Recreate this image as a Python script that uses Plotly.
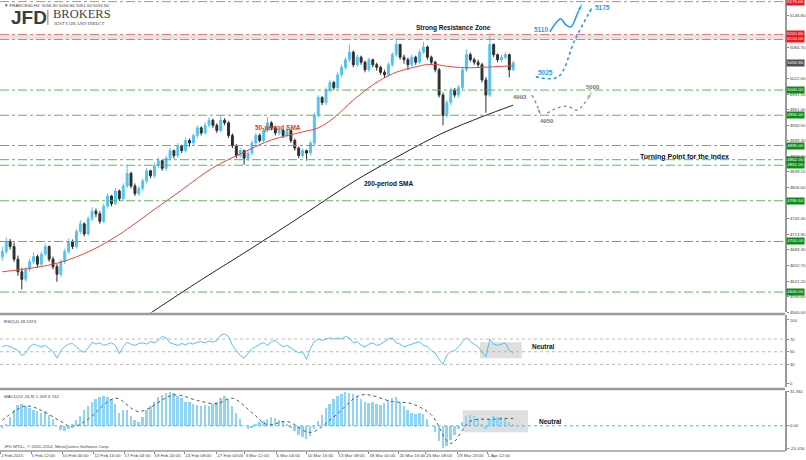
import plotly.graph_objects as go

# ---------------- data ----------------
OPEN = [4670, 4680, 4700, 4690, 4665, 4640, 4625, 4645,
        4660, 4670, 4655, 4675, 4690, 4665, 4650, 4635,
        4660, 4680, 4700, 4690, 4720, 4735, 4715, 4745,
        4760, 4755, 4740, 4770, 4790, 4775, 4800, 4785,
        4810, 4835, 4810, 4795, 4805, 4820, 4840, 4830,
        4850, 4860, 4845, 4865, 4880, 4870, 4890, 4880,
        4900, 4895, 4910, 4925, 4915, 4930, 4940, 4930,
        4920, 4940, 4935, 4910, 4890, 4870, 4880, 4865,
        4875, 4895, 4910, 4900, 4920, 4935, 4925, 4915,
        4920, 4910, 4920, 4900, 4885, 4870, 4880, 4875,
        4895, 4950, 4985, 4975, 5000, 5015, 5005, 5030,
        5045, 5060, 5075, 5050, 5065, 5055, 5040, 5060,
        5050, 5045, 5035, 5030, 5050, 5070, 5090, 5065,
        5060, 5050, 5065, 5055, 5075, 5085, 5065, 5055,
        5040, 4990, 4950, 4975, 5000, 4990, 5005, 5040,
        5070, 5060, 5055, 5050, 5020, 4990, 5090, 5070,
        5060, 5065, 5070, 5040]
HIGH = [4690, 4708, 4705, 4698, 4672, 4648, 4650, 4666,
        4678, 4674, 4680, 4696, 4692, 4670, 4655, 4665,
        4686, 4706, 4704, 4725, 4742, 4738, 4750, 4768,
        4765, 4760, 4775, 4796, 4792, 4806, 4803, 4815,
        4852, 4838, 4815, 4810, 4825, 4846, 4842, 4856,
        4866, 4862, 4870, 4886, 4882, 4895, 4892, 4906,
        4904, 4914, 4930, 4928, 4936, 4946, 4943, 4934,
        4950, 4944, 4938, 4914, 4893, 4885, 4882, 4880,
        4900, 4915, 4914, 4925, 4946, 4938, 4928, 4925,
        4923, 4925, 4922, 4904, 4888, 4884, 4882, 4900,
        4955, 4990, 4988, 5005, 5020, 5018, 5035, 5050,
        5065, 5090, 5078, 5070, 5068, 5058, 5064, 5062,
        5054, 5048, 5040, 5055, 5075, 5102, 5092, 5070,
        5064, 5070, 5068, 5080, 5095, 5088, 5068, 5058,
        5044, 4995, 4980, 5005, 5004, 5010, 5045, 5080,
        5074, 5064, 5060, 5054, 5025, 5108, 5092, 5072,
        5070, 5075, 5072, 5058]
LOW = [4662, 4675, 4684, 4660, 4632, 4605, 4620, 4640,
       4655, 4648, 4650, 4670, 4660, 4645, 4620, 4630,
       4655, 4676, 4685, 4686, 4715, 4710, 4712, 4740,
       4748, 4735, 4736, 4765, 4770, 4772, 4780, 4780,
       4806, 4805, 4790, 4790, 4800, 4815, 4825, 4826,
       4845, 4840, 4840, 4860, 4864, 4866, 4875, 4876,
       4888, 4890, 4905, 4910, 4912, 4926, 4925, 4915,
       4916, 4930, 4905, 4885, 4865, 4866, 4852, 4860,
       4870, 4890, 4896, 4896, 4916, 4920, 4910, 4910,
       4905, 4906, 4895, 4880, 4865, 4866, 4860, 4870,
       4890, 4945, 4970, 4970, 4995, 5000, 5000, 5025,
       5040, 5055, 5045, 5046, 5050, 5035, 5036, 5045,
       5038, 5030, 5024, 5026, 5046, 5066, 5060, 5052,
       5040, 5046, 5050, 5052, 5072, 5060, 5050, 5035,
       4985, 4930, 4945, 4970, 4985, 4985, 5000, 5036,
       5056, 5050, 5045, 5015, 4955, 4986, 5065, 5055,
       5055, 5060, 5025, 5038]
CLOSE = [4680, 4700, 4690, 4665, 4640, 4625, 4645, 4660,
         4670, 4655, 4675, 4690, 4665, 4650, 4635, 4660,
         4680, 4700, 4690, 4720, 4735, 4715, 4745, 4760,
         4755, 4740, 4770, 4790, 4775, 4800, 4785, 4810,
         4835, 4810, 4795, 4805, 4820, 4840, 4830, 4850,
         4860, 4845, 4865, 4880, 4870, 4890, 4880, 4900,
         4895, 4910, 4925, 4915, 4930, 4940, 4930, 4920,
         4940, 4935, 4910, 4890, 4870, 4880, 4865, 4875,
         4895, 4910, 4900, 4920, 4935, 4925, 4915, 4920,
         4910, 4920, 4900, 4885, 4870, 4880, 4875, 4895,
         4950, 4985, 4975, 5000, 5015, 5005, 5030, 5045,
         5060, 5075, 5050, 5065, 5055, 5040, 5060, 5050,
         5045, 5035, 5030, 5050, 5070, 5090, 5065, 5060,
         5050, 5065, 5055, 5075, 5085, 5065, 5055, 5040,
         4990, 4950, 4975, 5000, 4990, 5005, 5040, 5070,
         5060, 5055, 5050, 5020, 4990, 5090, 5070, 5060,
         5065, 5070, 5040, 5053.8]

SMA50_IDX = [0, 8, 15, 23, 31, 38, 46, 54, 62, 69, 77, 81, 85, 90, 95, 100, 105, 110, 115, 120, 126, 131]
SMA50_VAL = [4640, 4648, 4659, 4683, 4719, 4758, 4802, 4846, 4877, 4901, 4917, 4925, 4945, 4980,
             5010, 5032, 5044, 5051, 5046, 5044, 5046, 5048]

SMA200_IDX = [36, 51, 64, 77, 90, 103, 113, 123, 131]
SMA200_VAL = [4548, 4624, 4687, 4752, 4818, 4875, 4915, 4947, 4970]

RSI = [58, 60, 58, 55, 52, 44, 48, 58,
       62, 60, 58, 60, 55, 50, 40, 52,
       58, 62, 63, 58, 52, 49, 56, 65,
       62, 64, 60, 62, 64, 60, 47, 58,
       65, 62, 60, 63, 64, 62, 66, 64,
       68, 74, 72, 64, 62, 60, 63, 61,
       64, 62, 65, 66, 64, 67, 65, 68,
       76, 78, 74, 60, 52, 44, 40, 48,
       55, 58, 62, 64, 60, 66, 68, 62,
       58, 60, 56, 52, 48, 50, 38, 55,
       66, 70, 68, 70, 72, 70, 72, 70,
       74, 72, 64, 66, 60, 58, 62, 64,
       60, 62, 66, 70, 72, 64, 62, 58,
       60, 62, 64, 66, 60, 58, 52, 48,
       38, 30, 45, 50, 52, 58, 66, 72,
       66, 62, 58, 50, 42, 70, 62, 60,
       62, 64, 52, 48.5374]

MACD = [-2, 2, 8, 14, 19, 20, 18, 16,
        14, 13, 12, 13, 10, 6, 0, -4,
        -5, -3, 1, 5, 9, 14, 18, 22,
        24, 26, 27, 26, 24, 20, 12, 14,
        14, 9, 5, 3, 8, 14, 18, 22,
        26, 28, 30, 31, 30, 27, 25, 22,
        22, 20, 19, 18, 19, 18, 20, 22,
        25, 27, 24, 18, 12, 6, 0, -3,
        -2, 1, 3, 4, 6, 8, 7, 5,
        4, 2, -2, -5, -8, -10, -12, -9,
        -3, 4, 10, 16, 20, 24, 27, 29,
        31, 30, 29, 27, 24, 22, 21, 22,
        20, 19, 21, 23, 25, 26, 22, 18,
        14, 12, 11, 12, 11, 6, 0, -6,
        -14, -20, -18, -13, -8, -3, 3, 9,
        10, 9, 7, 2, -3, 6, 9, 8,
        8, 7, 3, 1.209]

SIG_IDX = [0, 6, 10, 15, 18, 22, 29, 35, 44, 50, 55, 59, 64, 68, 73, 79, 85, 92, 100, 105, 110, 115, 120, 126, 131]
SIG_VAL = [5, 18, 14, 4, -1, 6, 25, 13, 28, 23, 20, 25, 12, 1, 4, -6, 8, 28, 22, 20, 10, -16, 4, 6, 6.742]

RED_LEVELS = [5175.00, 5110.00, 5100.00]
GREEN_LEVELS = [5000.00, 4950.00, 4890.00, 4862.00, 4851.00, 4780.64, 4700.00, 4600.00]
LAST_PRICE = 5053.80

PRICE_TICKS = [5146.80, 5084.70, 5022.60, 4991.50, 4961.40, 4930.50, 4899.30,
               4868.70, 4838.10, 4806.60, 4745.40, 4713.90, 4683.30, 4652.70, 4621.20,
               4590.60, 4560.00]
RSI_TICKS = [100, 70, 50, 30, 0]
MACD_TICKS = [31.361, 0.0, -20.416]
MACD_TICK_TEXT = ["31.361", "0.00", "-20.416"]

TIME_TICK_POS = [-0.5, 7.35, 15.3, 23.5, 31.2, 38.9, 46.8, 55.0, 62.2, 70.2, 78.1, 86.1, 94.0,
                 101.7, 108.6, 116.6, 124.3]
TIME_TICK_TEXT = ["2 Feb 2015", "5 Feb 12:00", "10 Feb 00:00", "12 Feb 16:00", "17 Feb 04:00",
                  "19 Feb 20:00", "24 Feb 08:00", "27 Feb 00:00", "3 Mar 12:00", "6 Mar 04:00",
                  "10 Mar 16:00", "13 Mar 08:00", "18 Mar 00:00", "20 Mar 16:00", "25 Mar 08:00",
                  "29 Mar 23:00", "1 Apr 12:00"]

# ---------------- styling ----------------
UP = "#52c3f1"
DN = "#2e2e2e"
BLUE = "#1e9fe8"
GRAY_ARROW = "#8a8a8a"
AX_FONT = dict(family="Liberation Sans, Arial, sans-serif", size=4.4, color="#444")
BOLD = "Liberation Sans, Arial, sans-serif"

IDX = list(range(len(CLOSE)))
XR = [-0.6, 200.7]

fig = go.Figure()

fig.add_trace(go.Candlestick(
    x=IDX, open=OPEN, high=HIGH, low=LOW, close=CLOSE,
    increasing=dict(line=dict(color=UP, width=1), fillcolor=UP),
    decreasing=dict(line=dict(color=DN, width=1), fillcolor=DN),
    whiskerwidth=0, xaxis="x", yaxis="y", showlegend=False, hoverinfo="skip"))

fig.add_trace(go.Scatter(x=SMA50_IDX, y=SMA50_VAL, mode="lines",
                         line=dict(color="#e8463c", width=1, shape="spline"),
                         xaxis="x", yaxis="y", showlegend=False, hoverinfo="skip"))
fig.add_trace(go.Scatter(x=SMA200_IDX, y=SMA200_VAL, mode="lines",
                         line=dict(color="#222222", width=1, shape="spline"),
                         xaxis="x", yaxis="y", showlegend=False, hoverinfo="skip"))

# analyst arrows (in index / price coordinates)
def arrow_trace(xs, ys, color, dash, width):
    sizes = [0] * (len(xs) - 1) + [7]
    return go.Scatter(x=xs, y=ys, mode="lines+markers",
                      line=dict(color=color, width=width, dash=dash, shape="spline"),
                      marker=dict(symbol="arrow", size=sizes, color=color, angleref="previous"),
                      xaxis="x", yaxis="y", showlegend=False, hoverinfo="skip", cliponaxis=False)

fig.add_trace(arrow_trace([140.4, 142.2, 143.2, 144.5, 145.8, 147.4, 148.6],
                          [5115, 5135, 5141, 5129, 5125, 5150, 5170], BLUE, "solid", 1.6))
fig.add_trace(arrow_trace([136.8, 142.5, 146.8, 151.4],
                          [5026, 5026, 5099, 5166], BLUE, "dot", 1.6))
fig.add_trace(arrow_trace([135.8, 137.2, 138.1], [4990, 4968, 4949], GRAY_ARROW, "dot", 1.3))
fig.add_trace(arrow_trace([139.7, 142.2, 144.8, 147.4, 149.1, 151.2],
                          [4954, 4964, 4968, 4960, 4972, 4996], GRAY_ARROW, "dot", 1.3))

# RSI
fig.add_trace(go.Scatter(x=IDX, y=RSI, mode="lines", line=dict(color="#55c1ee", width=1),
                         xaxis="x2", yaxis="y2", showlegend=False, hoverinfo="skip"))
# MACD
fig.add_trace(go.Bar(x=IDX, y=MACD, marker=dict(color="#8fd5f3", line=dict(width=0)), width=0.5,
                     xaxis="x3", yaxis="y3", showlegend=False, hoverinfo="skip"))
fig.add_trace(go.Scatter(x=SIG_IDX, y=SIG_VAL, mode="lines",
                         line=dict(color="#555555", width=1, dash="dot", shape="spline"),
                         xaxis="x3", yaxis="y3", showlegend=False, hoverinfo="skip"))

shapes = []
shapes.append(dict(type="rect", xref="paper", x0=0, x1=1, yref="y", y0=RED_LEVELS[2], y1=RED_LEVELS[1],
                   fillcolor="#e4e4e4", line=dict(width=0), layer="below"))
for lv in RED_LEVELS:
    shapes.append(dict(type="line", xref="paper", x0=0, x1=1, yref="y", y0=lv, y1=lv,
                       line=dict(color="#f07575", width=1, dash="dashdot")))
for lv in GREEN_LEVELS:
    shapes.append(dict(type="line", xref="paper", x0=0, x1=1, yref="y", y0=lv, y1=lv,
                       line=dict(color="#5cb85c", width=1, dash="dashdot")))
for lv in [70, 50, 30]:
    shapes.append(dict(type="line", xref="paper", x0=0, x1=1, yref="y2", y0=lv, y1=lv,
                       line=dict(color="#aaaaaa", width=0.8, dash="dot")))
shapes.append(dict(type="line", xref="paper", x0=0, x1=1, yref="y3", y0=0, y1=0,
                   line=dict(color="#3cbff0", width=1, dash="dot")))
shapes.append(dict(type="rect", xref="x2", x0=122.5, x1=133.2, yref="y2", y0=39.7, y1=65,
                   fillcolor="rgba(185,185,185,0.45)", line=dict(width=0), layer="below"))
shapes.append(dict(type="rect", xref="x3", x0=118.1, x1=134.8, yref="y3", y0=-5.9, y1=14.1,
                   fillcolor="rgba(185,185,185,0.45)", line=dict(width=0), layer="below"))
for py in [0.3038, 0.1375]:
    shapes.append(dict(type="line", xref="paper", x0=0, x1=1, yref="paper", y0=py, y1=py,
                       line=dict(color="#9a9a9a", width=2.5)))
shapes.append(dict(type="line", xref="paper", x0=0, x1=1, yref="paper", y0=0, y1=0,
                   line=dict(color="#9a9a9a", width=1.5)))
shapes.append(dict(type="line", xref="paper", x0=0.061, x1=0.061, yref="paper", y0=0.945, y1=0.978,
                   line=dict(color="#555", width=0.8)))

ann = []
def label_box(val, color, text=None):
    return dict(x=1, xref="paper", xanchor="left", y=val, yref="y", yanchor="middle",
                text=text or f"{val:.2f}", showarrow=False, xshift=1,
                font=dict(family="Liberation Sans, Arial, sans-serif", size=4.4, color="white"),
                bgcolor=color, borderpad=0.3)
for lv in RED_LEVELS:
    ann.append(label_box(lv, "#f01818"))
for lv in GREEN_LEVELS:
    ann.append(label_box(lv, "#0e8a16"))
ann.append(label_box(LAST_PRICE, "#505050"))

def txt(x, y, s, color="#111", size=6.5, xref="x", yref="y", anchor="center", bold=True, family=BOLD):
    return dict(x=x, y=y, xref=xref, yref=yref, text=(f"<b>{s}</b>" if bold else s), showarrow=False,
                xanchor=anchor, yanchor="middle", font=dict(family=family, size=size, color=color))

ann += [
    txt(115.6, 5123, "Strong Resistance Zone"),
    txt(70.7, 4925, "50-period SMA", color="#e8342a"),
    txt(98.9, 4814, "200-period SMA"),
    txt(175.0, 4867, "Turning Point for the index", size=7),
    txt(138.1, 5119, "5110", color=BLUE),
    txt(154.0, 5164, "5175", color=BLUE),
    txt(139.4, 5034, "5025", color=BLUE),
    txt(132.7, 4986, "4993", color="#777", size=6),
    txt(139.7, 4939, "4950", color="#777", size=6),
    txt(151.5, 5006, "5000", color="#777", size=6),
    txt(135.3, 59, "Neutral", xref="x2", yref="y2", anchor="left"),
    txt(137.1, 3.5, "Neutral", xref="x3", yref="y3", anchor="left"),
]
ann.append(dict(x=0.003, xref="paper", y=1, yref="paper", yanchor="top", xanchor="left", yshift=-1,
                text="▼ FRANCE40,H4  5056.80 5056.80 5051.60 5053.80", showarrow=False, font=AX_FONT))
ann.append(dict(x=0.003, xref="paper", y=0.985, yref="y2 domain", yanchor="top", xanchor="left",
                text="RSI(14) 48.5374", showarrow=False, font=AX_FONT))
ann.append(dict(x=0.003, xref="paper", y=0.985, yref="y3 domain", yanchor="top", xanchor="left",
                text="MACD(12,26,9) 1.209 6.742", showarrow=False, font=AX_FONT))
ann.append(dict(x=0.003, xref="paper", y=0.08, yref="y3 domain", yanchor="middle", xanchor="left",
                text="JFD MT4+, © 2001-2014, MetaQuotes Software Corp.", showarrow=False, font=AX_FONT))
ann.append(dict(x=0.011, xref="paper", y=0.962, yref="paper", xanchor="left", yanchor="middle",
                text="<b>JFD</b>", showarrow=False,
                font=dict(family="Liberation Sans, Arial, sans-serif", size=19, color="#3c3c3c")))
ann.append(dict(x=0.065, xref="paper", y=0.968, yref="paper", xanchor="left", yanchor="middle",
                text="BROKERS", showarrow=False,
                font=dict(family="Liberation Serif, Times New Roman, serif", size=12.5, color="#444")))
ann.append(dict(x=0.066, xref="paper", y=0.949, yref="paper", xanchor="left", yanchor="middle",
                text="JUST FAIR AND DIRECT", showarrow=False,
                font=dict(family="Liberation Serif, Times New Roman, serif", size=4.6, color="#444")))

yax_common = dict(side="right", showgrid=False, zeroline=False, showline=True, linecolor="#9a9a9a",
                  linewidth=1.5, ticks="outside", ticklen=2, tickcolor="#888", tickfont=AX_FONT,
                  fixedrange=True, automargin=False)
xax_common = dict(range=XR, showgrid=False, zeroline=False, showline=False, fixedrange=True,
                  automargin=False)

fig.update_layout(
    width=806, height=460,
    margin=dict(l=0, r=21, t=0, b=9),
    paper_bgcolor="white", plot_bgcolor="white",
    showlegend=False, bargap=0,
    xaxis=dict(**xax_common, domain=[0, 1], anchor="y", showticklabels=False,
               rangeslider=dict(visible=False)),
    xaxis2=dict(**xax_common, domain=[0, 1], anchor="y2", matches="x", showticklabels=False),
    xaxis3=dict(**xax_common, domain=[0, 1], anchor="y3", matches="x",
                tickmode="array", tickvals=TIME_TICK_POS, ticktext=TIME_TICK_TEXT,
                ticks="outside", ticklen=2, tickcolor="#888", tickfont=AX_FONT, tickangle=0,
                ticklabelposition="outside right"),
    yaxis=dict(**yax_common, domain=[0.3071, 1], range=[4559.4, 5178.2],
               tickmode="array", tickvals=PRICE_TICKS, ticktext=[f"{v:.2f}" for v in PRICE_TICKS]),
    yaxis2=dict(**yax_common, domain=[0.1419, 0.3005], range=[-5.5, 107.1],
                tickmode="array", tickvals=RSI_TICKS, ticktext=[str(v) for v in RSI_TICKS]),
    yaxis3=dict(**yax_common, domain=[0, 0.1330], range=[-22.9, 31.6],
                tickmode="array", tickvals=MACD_TICKS, ticktext=MACD_TICK_TEXT),
    shapes=shapes, annotations=ann,
)

fig.write_html("out.html", config={"displayModeBar": False},
               post_script="document.body.style.margin='0';")
